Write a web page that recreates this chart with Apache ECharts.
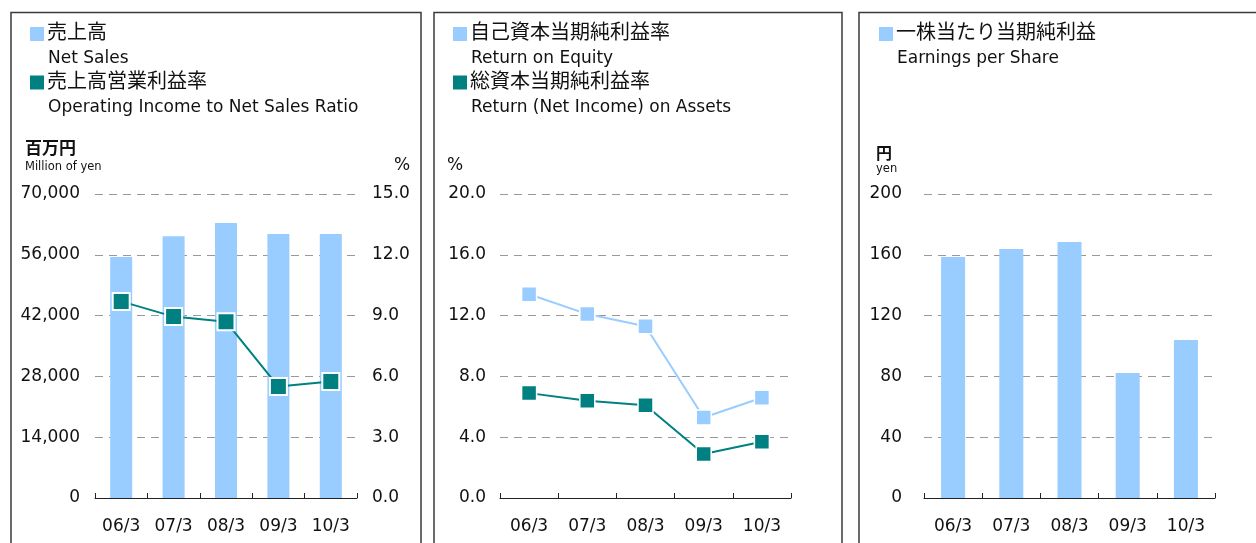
<!DOCTYPE html>
<html>
<head>
<meta charset="utf-8">
<script src="https://cdn.jsdelivr.net/npm/echarts@6/dist/echarts.min.js"></script>
<style>
  html, body { margin: 0; padding: 0; background: #fff; }
  #chart { width: 1256px; height: 543px; }
</style>
</head>
<body>
<div id="chart"></div>
<script>
// fiscal years (March year-end)
const categories = ["06/3", "07/3", "08/3", "09/3", "10/3"];

// panel 1
const netSales = [55500, 60300, 63300, 60800, 60800]; // million yen
const opMargin = [9.7, 8.95, 8.7, 5.5, 5.75]; // %
// panel 2
const roe = [13.4, 12.1, 11.3, 5.3, 6.6]; // %
const roa = [6.9, 6.4, 6.1, 2.9, 3.7]; // %
// panel 3
const eps = [158.6, 163.8, 168.4, 82.2, 103.9]; // yen

// tick labels
const salesTicks = [0, 14000, 28000, 42000, 56000, 70000];
const marginTicks = [0, 3, 6, 9, 12, 15];
const returnTicks = [0, 4, 8, 12, 16, 20];
const epsTicks = [0, 40, 80, 120, 160, 200];

// legend / unit texts
const legend1 = [["売上高", "Net Sales"], ["売上高営業利益率", "Operating Income to Net Sales Ratio"]];
const legend2 = [["自己資本当期純利益率", "Return on Equity"], ["総資本当期純利益率", "Return (Net Income) on Assets"]];
const legend3 = [["一株当たり当期純利益", "Earnings per Share"]];

const LIGHT = "#99CCFF";
const TEAL = "#008080";
const FONT = "'DejaVu Sans', 'Noto Sans CJK JP', sans-serif";

const chart = echarts.init(document.getElementById("chart"));

function range(ticks) {
  return { min: ticks[0], max: ticks[ticks.length - 1], interval: ticks[1] - ticks[0] };
}

function xAxisFor(gridIndex) {
  return {
    type: "category",
    gridIndex,
    data: categories,
    axisLine: { lineStyle: { color: "#222", width: 1 } },
    axisTick: { show: true, inside: true, length: 5, alignWithLabel: false, lineStyle: { color: "#222", width: 1 } },
    axisLabel: { color: "#111", fontSize: 17, fontFamily: FONT, margin: 20 },
  };
}

function yAxisFor(gridIndex, ticks, fmt, position, margin) {
  return Object.assign({
    type: "value",
    gridIndex,
    position,
    axisLine: { show: false },
    axisTick: { show: false },
    axisLabel: { color: "#111", fontSize: 17, fontFamily: FONT, margin, formatter: fmt },
    splitLine: { lineStyle: { color: "#999", type: [8, 6], width: 1 } },
  }, range(ticks));
}

const comma = (v) => v.toLocaleString("en-US");
const oneDec = (v) => v.toFixed(1);
const plain = (v) => String(v);

// legend and unit labels as graphic elements
function legendBlock(items, colors, x) {
  const els = [];
  items.forEach((it, i) => {
    const y = 34 + i * 48.5;
    els.push({ type: "rect", shape: { x: x, y: y - 7, width: 14, height: 14 }, style: { fill: colors[i] } });
    els.push({ type: "text", x: x + 17, y: y, style: { text: it[0], font: "20px " + FONT, fill: "#111", verticalAlign: "middle" } });
    els.push({ type: "text", x: x + 18, y: y + 25, style: { text: it[1], font: "17px " + FONT, fill: "#111", verticalAlign: "middle" } });
  });
  return els;
}

const graphics = [
  { type: "rect", shape: { x: 11, y: 12.5, width: 410, height: 600 }, style: { fill: "none", stroke: "#3a3a3a", lineWidth: 1.5 } },
  { type: "rect", shape: { x: 434, y: 12.5, width: 408, height: 600 }, style: { fill: "none", stroke: "#3a3a3a", lineWidth: 1.5 } },
  { type: "rect", shape: { x: 859, y: 12.5, width: 450, height: 600 }, style: { fill: "none", stroke: "#3a3a3a", lineWidth: 1.5 } },
  ...legendBlock(legend1, [LIGHT, TEAL], 30),
  ...legendBlock(legend2, [LIGHT, TEAL], 453),
  ...legendBlock(legend3, [LIGHT], 879),
  { type: "text", x: 25, y: 150, style: { text: "百万円", font: "bold 17px " + FONT, fill: "#111", verticalAlign: "middle" } },
  { type: "text", x: 25, y: 167.5, style: { text: "Million of yen", font: "11.5px " + FONT, fill: "#111", verticalAlign: "middle" } },
  { type: "text", x: 394, y: 166, style: { text: "%", font: "17px " + FONT, fill: "#111", verticalAlign: "middle" } },
  { type: "text", x: 447, y: 166, style: { text: "%", font: "17px " + FONT, fill: "#111", verticalAlign: "middle" } },
  { type: "text", x: 876, y: 155, style: { text: "円", font: "bold 16px " + FONT, fill: "#111", verticalAlign: "middle" } },
  { type: "text", x: 876, y: 169.5, style: { text: "yen", font: "11.5px " + FONT, fill: "#111", verticalAlign: "middle" } },
];

const option = {
  backgroundColor: "#ffffff",
  animation: false,
  textStyle: { fontFamily: FONT },
  grid: [
    { left: 95, top: 194, width: 262, height: 304 },
    { left: 500, top: 194, width: 291, height: 304 },
    { left: 924, top: 194, width: 291, height: 304 },
  ],
  xAxis: [xAxisFor(0), xAxisFor(1), xAxisFor(2)],
  yAxis: [
    yAxisFor(0, salesTicks, comma, "left", 15),
    Object.assign(yAxisFor(0, marginTicks, oneDec, "right", 15), { splitLine: { show: false } }),
    yAxisFor(1, returnTicks, oneDec, "left", 14),
    yAxisFor(2, epsTicks, plain, "left", 22),
  ],
  series: [
    {
      name: "売上高",
      type: "bar",
      xAxisIndex: 0,
      yAxisIndex: 0,
      data: netSales,
      barWidth: 22,
      itemStyle: { color: LIGHT },
    },
    {
      name: "売上高営業利益率",
      type: "line",
      xAxisIndex: 0,
      yAxisIndex: 1,
      data: opMargin,
      symbol: "rect",
      symbolSize: 17,
      lineStyle: { color: TEAL, width: 2 },
      itemStyle: { color: TEAL, borderColor: "#fff", borderWidth: 2 },
    },
    {
      name: "自己資本当期純利益率",
      type: "line",
      xAxisIndex: 1,
      yAxisIndex: 2,
      data: roe,
      symbol: "rect",
      symbolSize: 15,
      lineStyle: { color: LIGHT, width: 2 },
      itemStyle: { color: LIGHT, borderColor: "#fff", borderWidth: 1.5 },
    },
    {
      name: "総資本当期純利益率",
      type: "line",
      xAxisIndex: 1,
      yAxisIndex: 2,
      data: roa,
      symbol: "rect",
      symbolSize: 15,
      lineStyle: { color: TEAL, width: 2 },
      itemStyle: { color: TEAL, borderColor: "#fff", borderWidth: 1.5 },
    },
    {
      name: "一株当たり当期純利益",
      type: "bar",
      xAxisIndex: 2,
      yAxisIndex: 3,
      data: eps,
      barWidth: 24,
      itemStyle: { color: LIGHT },
    },
  ],
  graphic: graphics,
};

chart.setOption(option);
</script>
</body>
</html>
